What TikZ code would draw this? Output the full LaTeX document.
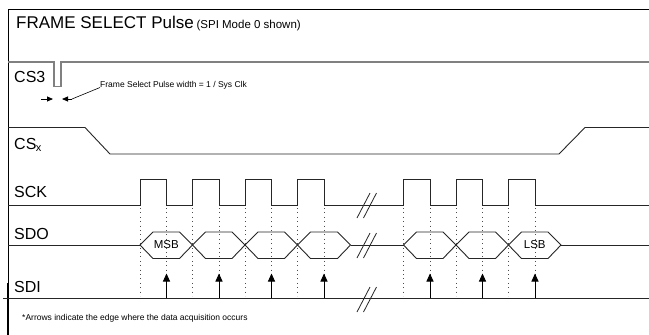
\documentclass[tikz,border=0pt]{standalone}
\usepackage{fontspec}
\setmainfont{Liberation Sans}
\usetikzlibrary{arrows.meta}
\newcommand\fsz[1]{\fontsize{#1}{#1}\selectfont}
\begin{document}
\begin{tikzpicture}[x=1pt,y=-1pt,
  sig/.style={line width=0.9pt, black!85},
  lbl/.style={inner sep=0, anchor=base west, font=\fsz{16}},
  small/.style={inner sep=0, anchor=base west, font=\fsz{8.5}},
  dots/.style={black!70, line width=0.6pt, dash pattern=on 0.8pt off 3.6pt},
  acq/.style={-{Triangle[length=8pt,width=7pt]}, line width=0.9pt},
  pw/.style={-{Triangle[length=6pt,width=5pt]}, line width=0.8pt},
  brk/.style={line width=0.8pt, black!85},
  cell/.style={line width=0.9pt, black!85}]
\useasboundingbox (0,0) rectangle (649,335);
\fill[white] (0,0) rectangle (649,335);
% frame
\draw[line width=1pt] (649,9) -- (8,9) -- (8,335);
\draw[line width=1.6pt] (7.5,283) -- (7.5,335);
% title
\node[inner sep=0, anchor=base west] (title) at (16,28)
  {{\fsz{17}FRAME SELECT Pulse} {\fsz{11.5}(SPI Mode 0 shown)}};
% labels
\node[lbl] (cs3) at (14,82.5) {CS3};
\node[lbl] (csx) at (14,149) {CS\kern-0.5pt\raisebox{-2pt}{\fsz{11}x}};
\node[lbl] (sck) at (14,197.5) {SCK};
\node[lbl] (sdo) at (14,239.5) {SDO};
\node[lbl] (sdi) at (14,292) {SDI};
% CS3
\draw[gray, line width=1.3pt] (8,62) -- (54,62) -- (54,86.5) -- (61,86.5) -- (61,62) -- (649,62);
\draw[pw] (41,99) -- (53,99);
\coordinate (pwt) at (72,99);
\draw[pw] (pwt) -- (62,99);
\node[small] (fsp) at (100,87.5) {Frame Select Pulse width = 1 / Sys Clk};
\draw[line width=0.6pt] (pwt) -- (fsp.base west);
% CSx
\draw[sig] (8,127.5) -- (85,127.5) -- (110,154) -- (559,154) -- (585,127.5) -- (649,127.5);
% SCK
\draw[sig] (8,205.5)
  \foreach \r in {140,192.5,245,297.5,403.5,456,508.5}
    { -- (\r,205.5) -- (\r,179) -- ({\r+26.5},179) -- ({\r+26.5},205.5) }
  -- (649,205.5);
% dotted edge markers
\foreach \r in {140,192.5,245,297.5,403.5,456,508.5} {
  \draw[dots] (\r,208) -- (\r,296);
  \draw[dots] ({\r+26.5},208) -- ({\r+26.5},296);
}
% SDO
\draw[sig] (8,245) -- (140,245);
\draw[sig] (350.5,245) -- (403.5,245);
\draw[sig] (561,245) -- (649,245);
\foreach \a/\w in {140/52.5,192.5/52.5,245/52.5,297.5/53,403.5/52.5,456/52.5,508.5/52.5} {
  \draw[cell, line join=miter] (\a,245) -- ({\a+13},232) -- ({\a+\w-13},232) -- ({\a+\w},245)
    -- ({\a+\w-13},258.5) -- ({\a+13},258.5) -- cycle;
}
\node[inner sep=0, font=\fsz{11.5}] (msb) at (166.25,245) {MSB};
\node[inner sep=0, font=\fsz{11.5}] (lsb) at (534.75,245) {LSB};
% SDI
\draw[sig] (3,298) -- (649,298);
\foreach \f in {166.5,219,271.5,324,430,482.5,535}
  \draw[acq] (\f,298) -- (\f,273.5);
% breaks
\foreach \y in {205.5,245.5,299.5} {
  \draw[brk] (357,{\y+12.5}) -- (370,{\y-12.5});
  \draw[brk] (363.5,{\y+12.5}) -- (376.5,{\y-12.5});
}
% note
\node[small] (note) at (22,320.5) {*Arrows indicate the edge where the data acquisition occurs};
\end{tikzpicture}
\end{document}
